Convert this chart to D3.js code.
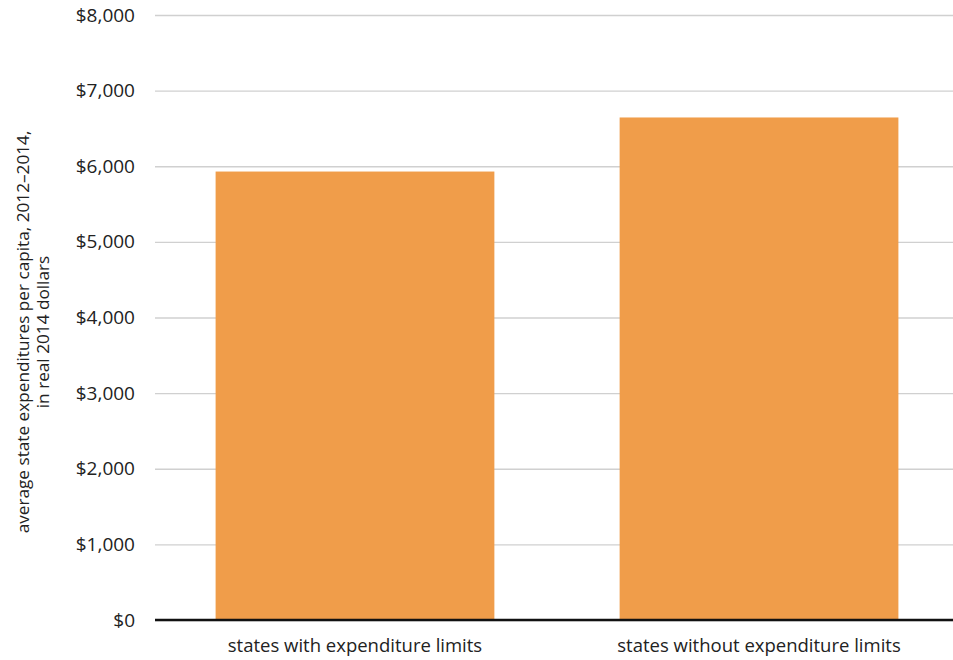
<!DOCTYPE html>
<html>
<head>
	<title> state expenditures </title>
	<script src="https://d3js.org/d3.v7.min.js"></script>
	<style>
		body { margin: 0; background: #fff; }
		text { font-family: "Open Sans", Lato, sans-serif; fill: #222; }
	</style>
</head>
<body>
	<svg width="953" height="660"></svg>
	<script type="text/javascript">
		let categories = ["states with expenditure limits", "states without expenditure limits"];
		let values = [5930, 6645];
		let tickValues = [0, 1000, 2000, 3000, 4000, 5000, 6000, 7000, 8000];
		let titleLines = ["average state expenditures per capita, 2012\u20132014,", "in real 2014 dollars"];

		let svg = d3.select("svg");
		let mLeft = 155, mRight = 953, mTop = 15, mBottom = 620;

		let x = d3.scaleBand().domain(categories).range([mLeft, 959])
			.paddingInner(0.31).paddingOuter(0.15);
		let y = d3.scaleLinear().domain([0, 8000]).range([mBottom, mTop]);

		// gridlines + y labels
		let yAxis = svg.append("g")
			.attr("transform", "translate(" + mLeft + ",0)")
			.call(d3.axisLeft(y).tickValues(tickValues)
				.tickSize(-(mRight - mLeft)).tickPadding(20)
				.tickFormat(d => "$" + d3.format(",")(d)));
		yAxis.select(".domain").remove();
		yAxis.selectAll("line").attr("stroke", "#d0d0d0").attr("stroke-width", 1.3);
		yAxis.selectAll("text").style("font-size", "19px").attr("fill", "#222");

		// bars
		svg.selectAll("rect.bar").data(values).enter().append("rect")
			.attr("class", "bar")
			.attr("x", (d, i) => x(categories[i]))
			.attr("width", x.bandwidth())
			.attr("y", d => y(d))
			.attr("height", d => y(0) - y(d))
			.attr("fill", "#f09d4a");

		// baseline + category labels
		let xAxis = svg.append("g")
			.attr("transform", "translate(0," + mBottom + ")")
			.call(d3.axisBottom(x).tickSize(0).tickPadding(19));
		xAxis.select(".domain").remove();
		xAxis.selectAll("text").style("font-size", "18.5px").attr("fill", "#222");
		svg.append("line")
			.attr("x1", mLeft).attr("x2", mRight)
			.attr("y1", y(0)).attr("y2", y(0))
			.attr("stroke", "#111").attr("stroke-width", 2.5);

		// y title
		let title = svg.append("text")
			.attr("transform", "translate(29,332) rotate(-90)")
			.attr("text-anchor", "middle")
			.style("font-size", "17.2px");
		title.selectAll("tspan").data(titleLines).enter().append("tspan")
			.attr("x", 0)
			.attr("dy", (d, i) => i == 0 ? 0 : 20)
			.text(d => d);
	</script>
</body>
</html>
